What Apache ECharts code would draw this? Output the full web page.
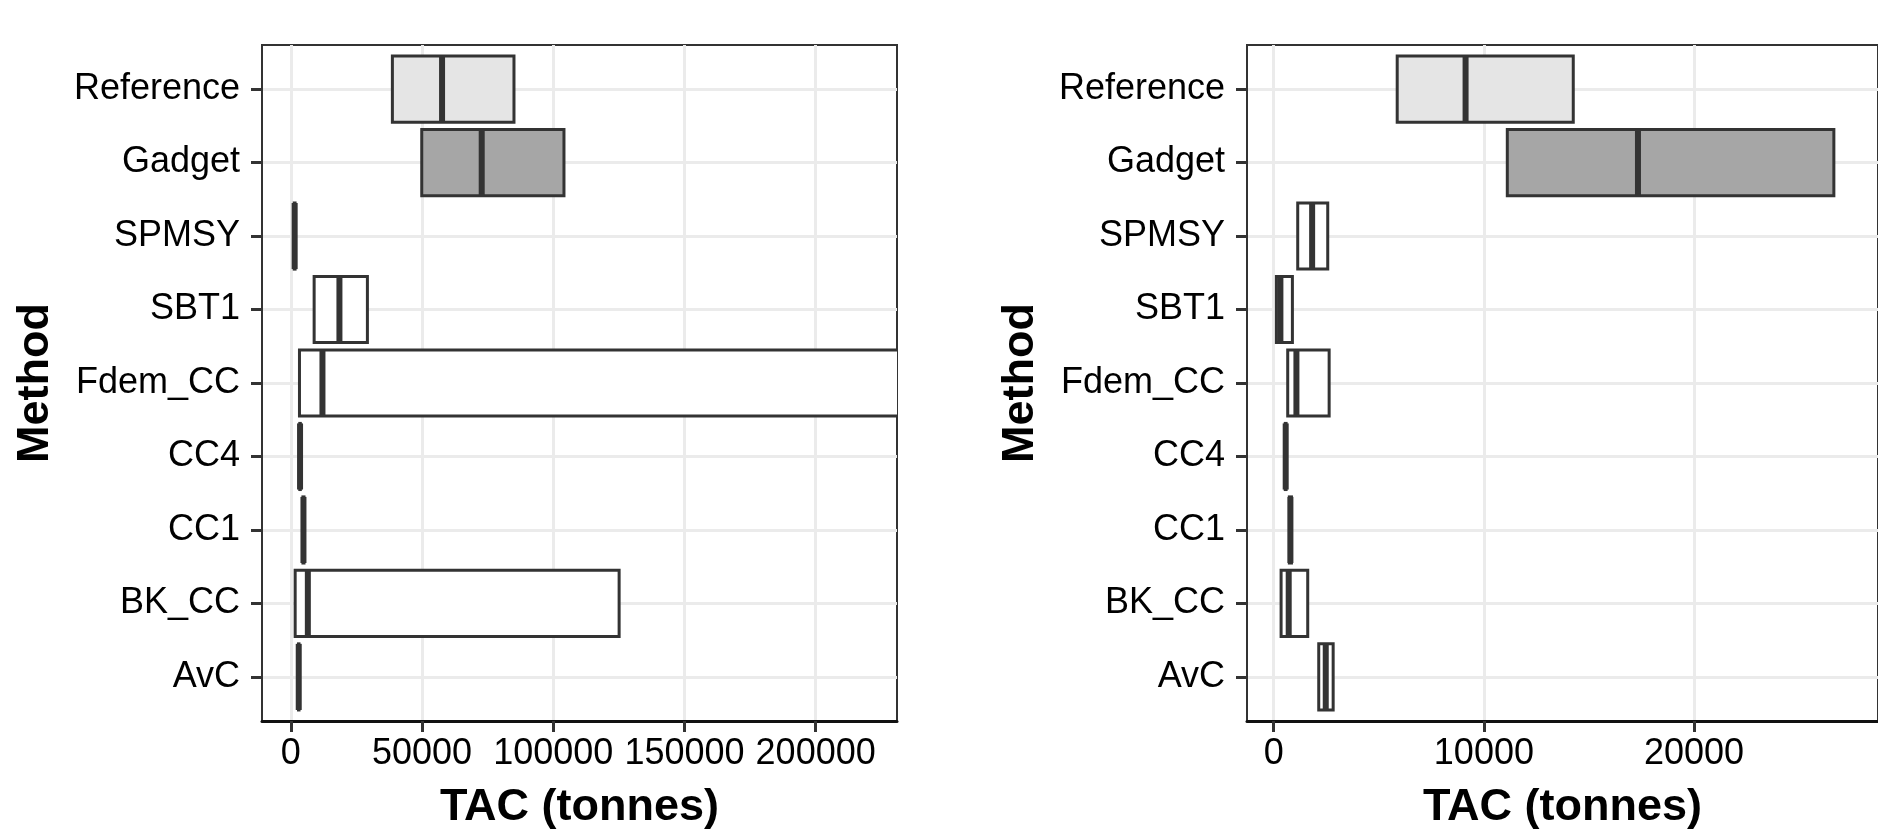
<!DOCTYPE html>
<html>
    <head>
        <meta charset="utf-8">
        <title>TAC by method</title>
        <script src="https://cdn.jsdelivr.net/npm/echarts@6/dist/echarts.min.js"></script>
        <style>
            html, body { margin: 0; padding: 0; background: #fff; }
        </style>
    </head>
    <body>
        <div id="chart" style="width: 1878px;height: 837px"></div>
    </body>

    <script type="text/javascript">
        // categories, top to bottom
        var methods = ['Reference', 'Gadget', 'SPMSY', 'SBT1', 'Fdem_CC', 'CC4', 'CC1', 'BK_CC', 'AvC'];

        // left panel: lower / median / upper of TAC (tonnes)
        var leftLower  = [38690, 49880, 1300, 8870, 3280, 3400, 4600, 1640, 2900];
        var leftMedian = [57620, 72730, 1450, 18510, 12040, 3500, 4800, 6470, 3000];
        var leftUpper  = [85030, 104080, 1600, 29170, 260000, 3600, 5000, 125100, 3100];
        var leftTicks  = [0, 50000, 100000, 150000, 200000];

        // right panel
        var rightLower  = [5876, 11114, 1143, 129, 667, 550, 745, 352, 2143];
        var rightMedian = [9129, 17330, 1829, 319, 1081, 571, 795, 714, 2476];
        var rightUpper  = [14252, 26650, 2571, 890, 2638, 590, 845, 1619, 2829];
        var rightTicks  = [0, 10000, 20000];

        var methodTicks = [1, 2, 3, 4, 5, 6, 7, 8, 9];

        var fills = ['#e5e5e5', '#a6a6a6', '#ffffff', '#ffffff', '#ffffff', '#ffffff', '#ffffff', '#ffffff', '#ffffff'];

        function makeData(lo, md, hi) {
            var out = [];
            for (var i = 0; i < methods.length; i++) {
                out.push({
                    value: [i + 1, lo[i], md[i], hi[i]],
                    itemStyle: { color: fills[i] }
                });
            }
            return out;
        }

        function renderBox(params, api) {
            var y = api.value(0);
            var lo = api.coord([api.value(1), y]);
            var md = api.coord([api.value(2), y]);
            var hi = api.coord([api.value(3), y]);
            var h = Math.abs(api.size([0, 0.9])[1]);
            return {
                type: 'group',
                children: [
                    {
                        type: 'rect',
                        shape: { x: lo[0], y: lo[1] - h / 2, width: hi[0] - lo[0], height: h },
                        style: { fill: api.visual('color'), stroke: '#333333', lineWidth: 3 }
                    },
                    {
                        type: 'line',
                        shape: { x1: md[0], y1: lo[1] - h / 2, x2: md[0], y2: lo[1] + h / 2 },
                        style: { stroke: '#333333', lineWidth: 6 }
                    }
                ]
            };
        }

        var font = 'Liberation Sans';

        function xAxisFor(idx, min, max, ticks) {
            return {
                type: 'value',
                gridIndex: idx,
                min: min,
                max: max,
                name: 'TAC (tonnes)',
                nameLocation: 'middle',
                nameGap: 64,
                nameTextStyle: { fontFamily: font, fontSize: 45, fontWeight: 'bold', color: '#000' },
                axisLine: { show: true, onZero: false, lineStyle: { color: '#111', width: 3 } },
                axisTick: { show: true, length: 11, customValues: ticks, lineStyle: { color: '#333', width: 3 } },
                axisLabel: { customValues: ticks, margin: 15, fontFamily: font, fontSize: 36, color: '#000',
                             formatter: function (v) { return String(v); } },
                splitLine: { show: true, lineStyle: { color: '#ebebeb', width: 3 } }
            };
        }

        function yAxisFor(idx) {
            return {
                type: 'value',
                gridIndex: idx,
                inverse: true,
                min: 0.4,
                max: 9.6,
                name: 'Method',
                nameLocation: 'middle',
                nameRotate: 90,
                nameGap: 204,
                nameTextStyle: { fontFamily: font, fontSize: 45, fontWeight: 'bold', color: '#000' },
                axisLine: { show: true, onZero: false, lineStyle: { color: '#333', width: 2 } },
                axisTick: { show: true, length: 11, customValues: methodTicks, lineStyle: { color: '#333', width: 3 } },
                axisLabel: { customValues: methodTicks, margin: 22, fontFamily: font, fontSize: 36, color: '#000',
                             formatter: function (v) { return methods[v - 1]; } },
                splitLine: { show: true, lineStyle: { color: '#ebebeb', width: 3 } }
            };
        }

        var myChart = echarts.init(document.getElementById('chart'));
        myChart.setOption({
            animation: false,
            backgroundColor: '#ffffff',
            grid: [
                { left: 262, top: 45, width: 635, bottom: 116, show: true, borderColor: '#333', borderWidth: 2,
                  containLabel: false, outerBoundsMode: 'none' },
                { left: 1247, top: 45, right: 0, bottom: 116, show: true, borderColor: '#333', borderWidth: 2,
                  containLabel: false, outerBoundsMode: 'none' }
            ],
            xAxis: [
                xAxisFor(0, -11000, 231000, leftTicks),
                xAxisFor(1, -1270, 28750, rightTicks)
            ],
            yAxis: [yAxisFor(0), yAxisFor(1)],
            series: [
                {
                    type: 'custom',
                    xAxisIndex: 0,
                    yAxisIndex: 0,
                    clip: true,
                    renderItem: renderBox,
                    encode: { x: [1, 2, 3], y: 0 },
                    data: makeData(leftLower, leftMedian, leftUpper)
                },
                {
                    type: 'custom',
                    xAxisIndex: 1,
                    yAxisIndex: 1,
                    clip: true,
                    renderItem: renderBox,
                    encode: { x: [1, 2, 3], y: 0 },
                    data: makeData(rightLower, rightMedian, rightUpper)
                }
            ]
        });
    </script>
</html>
